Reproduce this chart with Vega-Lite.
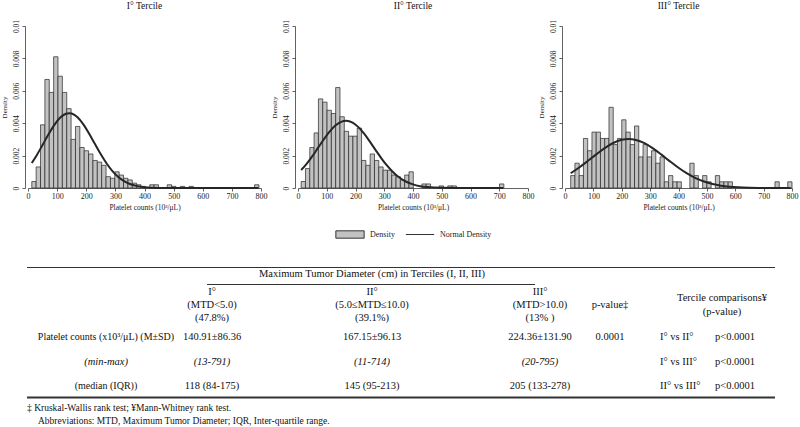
{
  "$schema": "https://vega.github.io/schema/vega-lite/v6.json",
  "padding": 0,
  "background": "white",
  "config": {
    "view": {"stroke": null},
    "font": "Liberation Serif",
    "axis": {"grid": false, "domainColor": "#3a3a3a", "tickColor": "#3a3a3a", "labelColor": "#1a1a1a", "titleColor": "#1a1a1a", "titleFontWeight": "normal", "labelFont": "Liberation Serif", "titleFont": "Liberation Serif", "tickSize": 3, "domainWidth": 0.8, "tickWidth": 0.8, "labelFlush": false, "labelOverlap": false},
    "axisX": {"labelOverlap": false},
    "axisY": {"labelOverlap": false},
    "title": {"font": "Liberation Serif", "fontSize": 9.5, "fontWeight": "normal", "color": "#111111", "offset": 9}
  },
  "datasets": {
    "bars1": [
      {"lo": 13, "hi": 28, "density": 0.0004}, {"lo": 28, "hi": 43, "density": 0.0013}, {"lo": 43, "hi": 58, "density": 0.0039},
      {"lo": 58, "hi": 73, "density": 0.0067}, {"lo": 73, "hi": 88, "density": 0.0059}, {"lo": 88, "hi": 103, "density": 0.0081},
      {"lo": 103, "hi": 118, "density": 0.0069}, {"lo": 118, "hi": 133, "density": 0.0059}, {"lo": 133, "hi": 148, "density": 0.0049},
      {"lo": 148, "hi": 163, "density": 0.0030}, {"lo": 163, "hi": 178, "density": 0.0038}, {"lo": 178, "hi": 193, "density": 0.0025},
      {"lo": 193, "hi": 208, "density": 0.0023}, {"lo": 208, "hi": 223, "density": 0.0021}, {"lo": 223, "hi": 238, "density": 0.0017},
      {"lo": 238, "hi": 253, "density": 0.0016}, {"lo": 253, "hi": 268, "density": 0.0014}, {"lo": 268, "hi": 283, "density": 0.0007},
      {"lo": 283, "hi": 298, "density": 0.0006}, {"lo": 298, "hi": 313, "density": 0.0010}, {"lo": 313, "hi": 328, "density": 0.0008},
      {"lo": 328, "hi": 343, "density": 0.0006}, {"lo": 343, "hi": 358, "density": 0.0005}, {"lo": 358, "hi": 373, "density": 0.0003},
      {"lo": 373, "hi": 388, "density": 0.0002}, {"lo": 388, "hi": 403, "density": 0.0001}, {"lo": 418, "hi": 433, "density": 0.0002},
      {"lo": 433, "hi": 448, "density": 0.0002}, {"lo": 478, "hi": 493, "density": 0.0002}, {"lo": 493, "hi": 508, "density": 0.0001},
      {"lo": 523, "hi": 538, "density": 0.0001}, {"lo": 553, "hi": 568, "density": 0.0001}, {"lo": 778, "hi": 793, "density": 0.0002}
    ],
    "curve1": [
      {"x": 13, "dens": 0.001543}, {"x": 30, "dens": 0.002025}, {"x": 50, "dens": 0.002655}, {"x": 70, "dens": 0.003298},
      {"x": 90, "dens": 0.003883}, {"x": 110, "dens": 0.004333}, {"x": 130, "dens": 0.004583}, {"x": 141, "dens": 0.00462},
      {"x": 150, "dens": 0.004594}, {"x": 170, "dens": 0.004365}, {"x": 190, "dens": 0.003931}, {"x": 210, "dens": 0.003355},
      {"x": 230, "dens": 0.002714}, {"x": 250, "dens": 0.002081}, {"x": 270, "dens": 0.001512}, {"x": 290, "dens": 0.001041},
      {"x": 310, "dens": 0.00068}, {"x": 330, "dens": 0.00042}, {"x": 350, "dens": 0.000246}, {"x": 375, "dens": 0.000117},
      {"x": 400, "dens": 0.0000513}, {"x": 450, "dens": 0.0000076}, {"x": 500, "dens": 0.0000006}, {"x": 600, "dens": 0},
      {"x": 700, "dens": 0}, {"x": 791, "dens": 0}
    ],
    "bars2": [
      {"lo": 11, "hi": 26, "density": 0.0004}, {"lo": 26, "hi": 41, "density": 0.0012}, {"lo": 41, "hi": 56, "density": 0.0025},
      {"lo": 56, "hi": 71, "density": 0.0034}, {"lo": 71, "hi": 86, "density": 0.0055}, {"lo": 86, "hi": 101, "density": 0.0053},
      {"lo": 101, "hi": 116, "density": 0.0048}, {"lo": 116, "hi": 131, "density": 0.0046}, {"lo": 131, "hi": 146, "density": 0.0062},
      {"lo": 146, "hi": 161, "density": 0.0044}, {"lo": 161, "hi": 176, "density": 0.0035}, {"lo": 176, "hi": 191, "density": 0.0032},
      {"lo": 191, "hi": 206, "density": 0.0032}, {"lo": 206, "hi": 221, "density": 0.0037}, {"lo": 221, "hi": 236, "density": 0.0017},
      {"lo": 236, "hi": 251, "density": 0.0014}, {"lo": 251, "hi": 266, "density": 0.0021}, {"lo": 266, "hi": 281, "density": 0.0017},
      {"lo": 281, "hi": 296, "density": 0.0013}, {"lo": 296, "hi": 311, "density": 0.0011}, {"lo": 311, "hi": 326, "density": 0.0011},
      {"lo": 326, "hi": 341, "density": 0.0008}, {"lo": 341, "hi": 356, "density": 0.0007}, {"lo": 356, "hi": 371, "density": 0.0005},
      {"lo": 371, "hi": 386, "density": 0.0008}, {"lo": 386, "hi": 401, "density": 0.0010}, {"lo": 431, "hi": 446, "density": 0.00025},
      {"lo": 446, "hi": 461, "density": 0.00025}, {"lo": 491, "hi": 506, "density": 0.00013}, {"lo": 521, "hi": 536, "density": 0.00013},
      {"lo": 536, "hi": 551, "density": 0.00013}, {"lo": 701, "hi": 716, "density": 0.00025}
    ],
    "curve2": [
      {"x": 11, "dens": 0.001109}, {"x": 30, "dens": 0.001489}, {"x": 50, "dens": 0.001963}, {"x": 70, "dens": 0.00249},
      {"x": 90, "dens": 0.003008}, {"x": 110, "dens": 0.003478}, {"x": 130, "dens": 0.003851}, {"x": 150, "dens": 0.004084},
      {"x": 167, "dens": 0.00415}, {"x": 190, "dens": 0.004034}, {"x": 210, "dens": 0.003757}, {"x": 230, "dens": 0.003352},
      {"x": 250, "dens": 0.002863}, {"x": 270, "dens": 0.002341}, {"x": 290, "dens": 0.001834}, {"x": 310, "dens": 0.001376},
      {"x": 330, "dens": 0.000988}, {"x": 350, "dens": 0.00068}, {"x": 375, "dens": 0.000401}, {"x": 400, "dens": 0.000221},
      {"x": 425, "dens": 0.000114}, {"x": 450, "dens": 0.0000547}, {"x": 500, "dens": 0.0000103}, {"x": 550, "dens": 0.0000015},
      {"x": 600, "dens": 0}, {"x": 714, "dens": 0}
    ],
    "bars3": [
      {"lo": 20, "hi": 35, "density": 0.000766}, {"lo": 35, "hi": 50, "density": 0.00153}, {"lo": 50, "hi": 65, "density": 0.000766},
      {"lo": 65, "hi": 80, "density": 0.00306}, {"lo": 80, "hi": 95, "density": 0.0023}, {"lo": 95, "hi": 110, "density": 0.00345},
      {"lo": 110, "hi": 125, "density": 0.00345}, {"lo": 125, "hi": 140, "density": 0.00306}, {"lo": 140, "hi": 155, "density": 0.00306},
      {"lo": 155, "hi": 170, "density": 0.00498}, {"lo": 170, "hi": 185, "density": 0.00268}, {"lo": 185, "hi": 200, "density": 0.00306},
      {"lo": 200, "hi": 215, "density": 0.00421}, {"lo": 215, "hi": 230, "density": 0.00345}, {"lo": 230, "hi": 245, "density": 0.00268},
      {"lo": 245, "hi": 260, "density": 0.00383}, {"lo": 260, "hi": 275, "density": 0.00192}, {"lo": 275, "hi": 290, "density": 0.00268},
      {"lo": 290, "hi": 305, "density": 0.00192}, {"lo": 305, "hi": 320, "density": 0.0023}, {"lo": 320, "hi": 335, "density": 0.00153},
      {"lo": 335, "hi": 350, "density": 0.00192}, {"lo": 350, "hi": 365, "density": 0.000383}, {"lo": 365, "hi": 380, "density": 0.000766},
      {"lo": 380, "hi": 395, "density": 0.000383}, {"lo": 395, "hi": 410, "density": 0.000383}, {"lo": 440, "hi": 455, "density": 0.00153},
      {"lo": 455, "hi": 470, "density": 0.000766}, {"lo": 485, "hi": 500, "density": 0.000766}, {"lo": 500, "hi": 515, "density": 0.000383},
      {"lo": 530, "hi": 545, "density": 0.000766}, {"lo": 545, "hi": 560, "density": 0.000383}, {"lo": 560, "hi": 575, "density": 0.000383},
      {"lo": 575, "hi": 590, "density": 0.000383}, {"lo": 740, "hi": 755, "density": 0.000383}, {"lo": 785, "hi": 800, "density": 0.000383}
    ],
    "curve3": [
      {"x": 20, "dens": 0.000911}, {"x": 50, "dens": 0.001263}, {"x": 80, "dens": 0.001662}, {"x": 110, "dens": 0.002077},
      {"x": 140, "dens": 0.002465}, {"x": 170, "dens": 0.002779}, {"x": 200, "dens": 0.002974}, {"x": 224, "dens": 0.003025},
      {"x": 250, "dens": 0.002968}, {"x": 280, "dens": 0.002768}, {"x": 310, "dens": 0.00245}, {"x": 340, "dens": 0.00206},
      {"x": 370, "dens": 0.001644}, {"x": 400, "dens": 0.001247}, {"x": 430, "dens": 0.000897}, {"x": 460, "dens": 0.000613},
      {"x": 490, "dens": 0.000398}, {"x": 520, "dens": 0.000245}, {"x": 550, "dens": 0.000144}, {"x": 580, "dens": 0.0000798},
      {"x": 610, "dens": 0.0000421}, {"x": 650, "dens": 0.0000166}, {"x": 700, "dens": 0.0000045}, {"x": 750, "dens": 0.000001},
      {"x": 795, "dens": 0}
    ],
    "legend": [
      {"item": "Density", "r": 0, "sym": 5, "lab": 6},
      {"item": "Normal Density", "r": 0, "sym": 8, "lab": 9}
    ],
    "rules": [
      {"r": 1, "c": 0, "c2": 16},
      {"r": 3, "c": 3, "c2": 10},
      {"r": 10, "c": 0, "c2": 16}
    ],
    "cells": [
      {"r": 2, "c": 7, "text": "Maximum Tumor Diameter (cm) in Terciles (I, II, III)"},
      {"r": 4, "c": 4, "text": "I°\n(MTD<5.0)\n(47.8%)"},
      {"r": 4, "c": 7, "text": "II°\n(5.0≤MTD≤10.0)\n(39.1%)"},
      {"r": 4, "c": 11, "text": "III°\n(MTD>10.0)\n(13% )"},
      {"r": 5, "c": 15, "text": "Tercile comparisons¥\n(p-value)"},
      {"r": 6, "c": 12, "text": "p-value‡"},
      {"r": 7, "c": 2, "text": "Platelet counts (x10³/μL)  (M±SD)"},
      {"r": 7, "c": 4, "text": "140.91±86.36"},
      {"r": 7, "c": 7, "text": "167.15±96.13"},
      {"r": 7, "c": 11, "text": "224.36±131.90"},
      {"r": 7, "c": 12, "text": "0.0001"},
      {"r": 7, "c": 13, "text": "I° vs II°"},
      {"r": 7, "c": 14, "text": "p<0.0001"},
      {"r": 8, "c": 2, "text": "(min-max)"},
      {"r": 8, "c": 4, "text": "(13-791)"},
      {"r": 8, "c": 7, "text": "(11-714)"},
      {"r": 8, "c": 11, "text": "(20-795)"},
      {"r": 8, "c": 13, "text": "I° vs III°"},
      {"r": 8, "c": 14, "text": "p<0.0001"},
      {"r": 9, "c": 2, "text": "(median (IQR))"},
      {"r": 9, "c": 4, "text": "118 (84-175)"},
      {"r": 9, "c": 7, "text": "145 (95-213)"},
      {"r": 9, "c": 11, "text": "205 (133-278)"},
      {"r": 9, "c": 13, "text": "II° vs III°"},
      {"r": 9, "c": 14, "text": "p<0.0001"},
      {"r": 11, "c": 0, "text": "‡ Kruskal-Wallis rank test;  ¥Mann-Whitney rank test."},
      {"r": 12, "c": 1, "text": "Abbreviations: MTD, Maximum Tumor Diameter;  IQR, Inter-quartile range."}
    ]
  },
  "spacing": 0,
  "vconcat": [
    {
      "spacing": 3,
      "hconcat": [
        {
          "width": 233, "height": 162,
          "title": "I° Tercile",
          "layer": [
            {
              "data": {"name": "bars1"},
              "mark": {"type": "bar", "fill": "#c2c2c2", "stroke": "#262626", "strokeWidth": 0.7},
              "encoding": {
                "x": {"field": "lo", "type": "quantitative", "scale": {"domain": [0, 800], "nice": false}, "axis": {"values": [0, 100, 200, 300, 400, 500, 600, 700, 800], "labelFontSize": 8, "labelPadding": 1, "labelOverlap": false, "title": "Platelet counts (10³/μL)", "titleFontSize": 7.5, "titlePadding": 3, "offset": 0}},
                "x2": {"field": "hi"},
                "y": {"field": "density", "type": "quantitative", "stack": null, "scale": {"domain": [0, 0.01], "nice": false}, "axis": {"values": [0, 0.002, 0.004, 0.006, 0.008, 0.01], "format": "~g", "labelAngle": 270, "labelAlign": "center", "labelBaseline": "bottom", "labelFontSize": 7.5, "labelPadding": 2, "labelOverlap": false, "labelBound": false, "title": "Density", "titleFontSize": 7, "titlePadding": 5, "offset": 3}},
                "y2": {"datum": 0}
              }
            },
            {
              "data": {"name": "curve1"},
              "mark": {"type": "line", "stroke": "#262626", "strokeWidth": 2, "interpolate": "monotone"},
              "encoding": {
                "x": {"field": "x", "type": "quantitative", "axis": {"values": [0, 100, 200, 300, 400, 500, 600, 700, 800], "labelFontSize": 8, "labelPadding": 1, "labelOverlap": false, "title": "Platelet counts (10³/μL)", "titleFontSize": 7.5, "titlePadding": 3, "offset": 0}},
                "y": {"field": "dens", "type": "quantitative", "axis": {"values": [0, 0.002, 0.004, 0.006, 0.008, 0.01], "format": "~g", "labelAngle": 270, "labelAlign": "center", "labelBaseline": "bottom", "labelFontSize": 7.5, "labelPadding": 2, "labelOverlap": false, "labelBound": false, "title": "Density", "titleFontSize": 7, "titlePadding": 5, "offset": 3}}
              }
            }
          ]
        },
        {
          "width": 230, "height": 162,
          "title": "II° Tercile",
          "layer": [
            {
              "data": {"name": "bars2"},
              "mark": {"type": "bar", "fill": "#c2c2c2", "stroke": "#262626", "strokeWidth": 0.7},
              "encoding": {
                "x": {"field": "lo", "type": "quantitative", "scale": {"domain": [0, 800], "nice": false}, "axis": {"values": [0, 100, 200, 300, 400, 500, 600, 700, 800], "labelFontSize": 8, "labelPadding": 1, "labelOverlap": false, "title": "Platelet counts (10³/μL)", "titleFontSize": 7.5, "titlePadding": 3, "offset": 0}},
                "x2": {"field": "hi"},
                "y": {"field": "density", "type": "quantitative", "stack": null, "scale": {"domain": [0, 0.01], "nice": false}, "axis": {"values": [0, 0.002, 0.004, 0.006, 0.008, 0.01], "format": "~g", "labelAngle": 270, "labelAlign": "center", "labelBaseline": "bottom", "labelFontSize": 7.5, "labelPadding": 2, "labelOverlap": false, "labelBound": false, "title": "Density", "titleFontSize": 7, "titlePadding": 5, "offset": 3}},
                "y2": {"datum": 0}
              }
            },
            {
              "data": {"name": "curve2"},
              "mark": {"type": "line", "stroke": "#262626", "strokeWidth": 2, "interpolate": "monotone"},
              "encoding": {
                "x": {"field": "x", "type": "quantitative", "axis": {"values": [0, 100, 200, 300, 400, 500, 600, 700, 800], "labelFontSize": 8, "labelPadding": 1, "labelOverlap": false, "title": "Platelet counts (10³/μL)", "titleFontSize": 7.5, "titlePadding": 3, "offset": 0}},
                "y": {"field": "dens", "type": "quantitative", "axis": {"values": [0, 0.002, 0.004, 0.006, 0.008, 0.01], "format": "~g", "labelAngle": 270, "labelAlign": "center", "labelBaseline": "bottom", "labelFontSize": 7.5, "labelPadding": 2, "labelOverlap": false, "labelBound": false, "title": "Density", "titleFontSize": 7, "titlePadding": 5, "offset": 3}}
              }
            }
          ]
        },
        {
          "width": 227, "height": 162,
          "title": "III° Tercile",
          "layer": [
            {
              "data": {"name": "bars3"},
              "mark": {"type": "bar", "fill": "#c2c2c2", "stroke": "#262626", "strokeWidth": 0.7},
              "encoding": {
                "x": {"field": "lo", "type": "quantitative", "scale": {"domain": [0, 800], "nice": false}, "axis": {"values": [0, 100, 200, 300, 400, 500, 600, 700, 800], "labelFontSize": 8, "labelPadding": 1, "labelOverlap": false, "title": "Platelet counts (10³/μL)", "titleFontSize": 7.5, "titlePadding": 3, "offset": 0}},
                "x2": {"field": "hi"},
                "y": {"field": "density", "type": "quantitative", "stack": null, "scale": {"domain": [0, 0.01], "nice": false}, "axis": {"values": [0, 0.002, 0.004, 0.006, 0.008, 0.01], "format": "~g", "labelAngle": 270, "labelAlign": "center", "labelBaseline": "bottom", "labelFontSize": 7.5, "labelPadding": 2, "labelOverlap": false, "labelBound": false, "title": "Density", "titleFontSize": 7, "titlePadding": 5, "offset": 3}},
                "y2": {"datum": 0}
              }
            },
            {
              "data": {"name": "curve3"},
              "mark": {"type": "line", "stroke": "#262626", "strokeWidth": 2, "interpolate": "monotone"},
              "encoding": {
                "x": {"field": "x", "type": "quantitative", "axis": {"values": [0, 100, 200, 300, 400, 500, 600, 700, 800], "labelFontSize": 8, "labelPadding": 1, "labelOverlap": false, "title": "Platelet counts (10³/μL)", "titleFontSize": 7.5, "titlePadding": 3, "offset": 0}},
                "y": {"field": "dens", "type": "quantitative", "axis": {"values": [0, 0.002, 0.004, 0.006, 0.008, 0.01], "format": "~g", "labelAngle": 270, "labelAlign": "center", "labelBaseline": "bottom", "labelFontSize": 7.5, "labelPadding": 2, "labelOverlap": false, "labelBound": false, "title": "Density", "titleFontSize": 7, "titlePadding": 5, "offset": 3}}
              }
            }
          ]
        }
      ]
    },
    {
      "width": 772, "height": 215,
      "layer": [
        {
          "data": {"name": "rules"},
          "transform": [{"filter": "datum.r != 10"}],
          "mark": {"type": "rule", "stroke": "#333333", "strokeWidth": 1},
          "encoding": {
            "x": {"field": "c", "type": "quantitative", "scale": {"domain": [0, 1, 2, 3, 4, 5, 6, 7, 8, 9, 10, 11, 12, 13, 14, 15, 16], "range": [-1, 10, 78, 179, 184, 322, 342, 344, 392, 412, 507, 512, 582, 632, 687, 694, 747], "zero": false, "nice": false}, "axis": null},
            "x2": {"field": "c2"},
            "y": {"field": "r", "type": "quantitative", "scale": {"domain": [0, 1, 2, 3, 4, 5, 6, 7, 8, 9, 10, 11, 12], "range": [23.5, 56.5, 62.5, 73.5, 80.5, 86.5, 93.5, 125.5, 150.5, 174.5, 186.5, 196.5, 209.5], "zero": false, "nice": false}, "axis": null}
          }
        },
        {
          "data": {"name": "rules"},
          "transform": [{"filter": "datum.r == 10"}],
          "mark": {"type": "rule", "stroke": "#333333", "strokeWidth": 2},
          "encoding": {
            "x": {"field": "c", "type": "quantitative"},
            "x2": {"field": "c2"},
            "y": {"field": "r", "type": "quantitative"}
          }
        },
        {
          "data": {"name": "legend"},
          "mark": {"type": "point", "filled": true, "size": 800, "stroke": "#333333", "strokeWidth": 1, "opacity": 1},
          "encoding": {
            "x": {"field": "sym", "type": "quantitative"},
            "y": {"field": "r", "type": "quantitative"},
            "shape": {"field": "item", "type": "nominal", "scale": {"domain": ["Density", "Normal Density"], "range": ["M-1,-0.26L1,-0.26L1,0.26L-1,0.26Z", "M-1,0L1,0"]}, "legend": null},
            "fill": {"field": "item", "type": "nominal", "scale": {"domain": ["Density", "Normal Density"], "range": ["#c2c2c2", "#ffffff"]}, "legend": null}
          }
        },
        {
          "data": {"name": "legend"},
          "mark": {"type": "text", "align": "left", "baseline": "middle", "fontSize": 8, "color": "#222222"},
          "encoding": {
            "x": {"field": "lab", "type": "quantitative"},
            "y": {"field": "r", "type": "quantitative"},
            "text": {"field": "item"}
          }
        },
        {
          "data": {"name": "cells"},
          "transform": [{"filter": "datum.r == 4"}],
          "mark": {"type": "text", "align": "center", "baseline": "middle", "fontSize": 10.5, "lineBreak": "\n", "lineHeight": 13, "color": "#111111"},
          "encoding": {
            "x": {"field": "c", "type": "quantitative"},
            "y": {"field": "r", "type": "quantitative"},
            "text": {"field": "text"}
          }
        },
        {
          "data": {"name": "cells"},
          "transform": [{"filter": "datum.r == 5"}],
          "mark": {"type": "text", "align": "center", "baseline": "middle", "fontSize": 10.5, "lineBreak": "\n", "lineHeight": 14, "color": "#111111"},
          "encoding": {
            "x": {"field": "c", "type": "quantitative"},
            "y": {"field": "r", "type": "quantitative"},
            "text": {"field": "text"}
          }
        },
        {
          "data": {"name": "cells"},
          "transform": [{"filter": "(datum.r == 2 || datum.r == 6 || datum.r == 7 || datum.r == 9) && datum.c <= 12 && datum.c != 2"}],
          "mark": {"type": "text", "align": "center", "baseline": "middle", "fontSize": 10.5, "color": "#111111"},
          "encoding": {
            "x": {"field": "c", "type": "quantitative"},
            "y": {"field": "r", "type": "quantitative"},
            "text": {"field": "text"}
          }
        },
        {
          "data": {"name": "cells"},
          "transform": [{"filter": "(datum.r == 7 || datum.r == 9) && datum.c == 2"}],
          "mark": {"type": "text", "align": "center", "baseline": "middle", "fontSize": 10, "color": "#111111"},
          "encoding": {
            "x": {"field": "c", "type": "quantitative"},
            "y": {"field": "r", "type": "quantitative"},
            "text": {"field": "text"}
          }
        },
        {
          "data": {"name": "cells"},
          "transform": [{"filter": "datum.r == 8 && datum.c <= 11"}],
          "mark": {"type": "text", "align": "center", "baseline": "middle", "fontSize": 10.5, "fontStyle": "italic", "color": "#111111"},
          "encoding": {
            "x": {"field": "c", "type": "quantitative"},
            "y": {"field": "r", "type": "quantitative"},
            "text": {"field": "text"}
          }
        },
        {
          "data": {"name": "cells"},
          "transform": [{"filter": "datum.c == 13 || datum.c == 14"}],
          "mark": {"type": "text", "align": "left", "baseline": "middle", "fontSize": 10.5, "color": "#111111"},
          "encoding": {
            "x": {"field": "c", "type": "quantitative"},
            "y": {"field": "r", "type": "quantitative"},
            "text": {"field": "text"}
          }
        },
        {
          "data": {"name": "cells"},
          "transform": [{"filter": "datum.r >= 11"}],
          "mark": {"type": "text", "align": "left", "baseline": "middle", "fontSize": 9.5, "color": "#111111"},
          "encoding": {
            "x": {"field": "c", "type": "quantitative"},
            "y": {"field": "r", "type": "quantitative"},
            "text": {"field": "text"}
          }
        }
      ]
    }
  ]
}
